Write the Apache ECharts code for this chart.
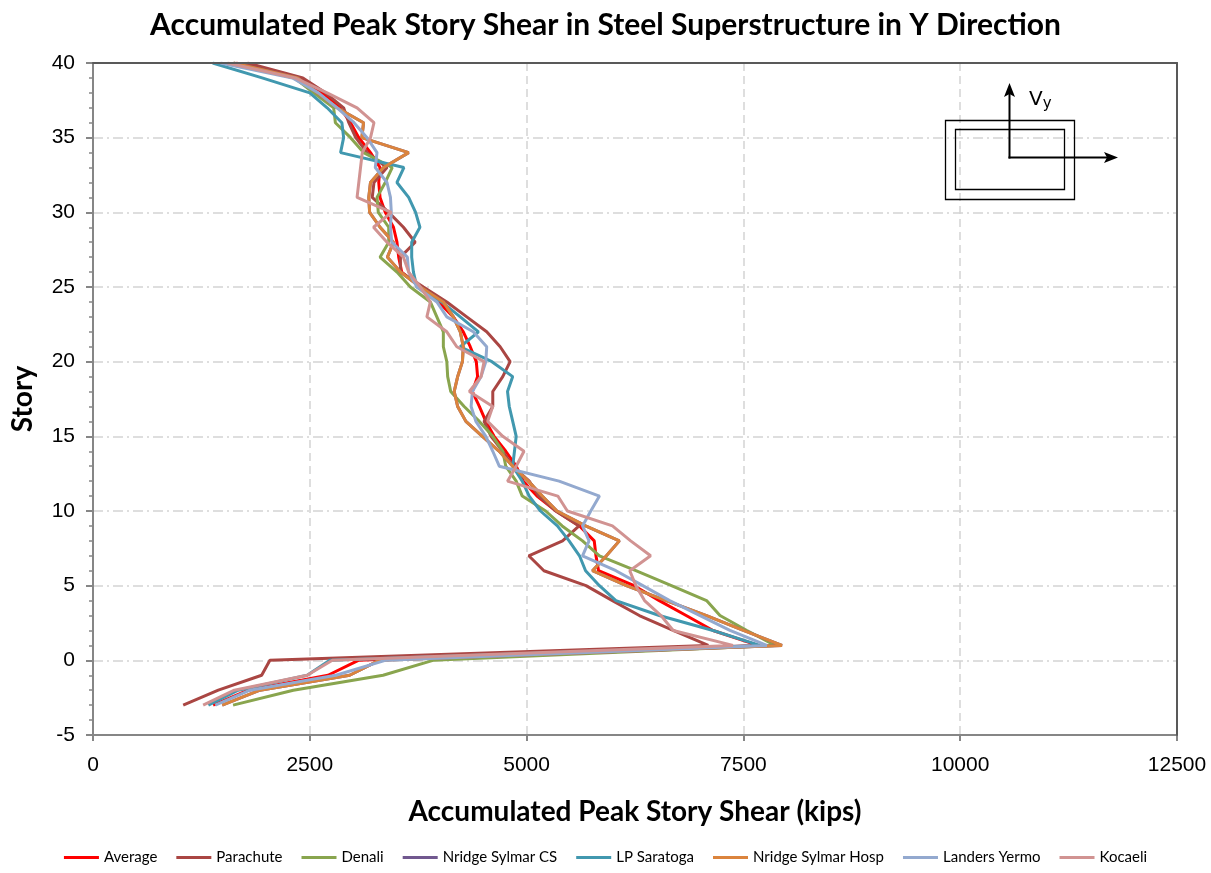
<!DOCTYPE html>
<html>
<head>
<meta charset="utf-8">
<title>Accumulated Peak Story Shear</title>
<script src="https://cdn.jsdelivr.net/npm/echarts@6/dist/echarts.min.js"></script>
<style>
  html, body { margin: 0; padding: 0; background: #ffffff; }
  #chart { width: 1211px; height: 873px; }
</style>
</head>
<body>
<div id="chart"></div>
<script>
// Story levels (basement -3 up to roof 40)
const stories = [-3, -2, -1, 0, 1, 2, 3, 4, 5, 6, 7, 8, 9, 10, 11, 12, 13, 14, 15, 16, 17, 18, 19, 20,
  21, 22, 23, 24, 25, 26, 27, 28, 29, 30, 31, 32, 33, 34, 35, 36, 37, 38, 39, 40];

// Accumulated peak story shear (kips) per ground motion, listed from story -3 to 40
const average = [1385, 1790, 2710, 3060, 7670, 7150, 6840, 6530, 6240, 5830, 5800, 5780, 5610, 5340, 5120, 4960,
  4880, 4760, 4625, 4530, 4455, 4375, 4435, 4420, 4350, 4270, 4155, 3985, 3775, 3560, 3525, 3505, 3465, 3370,
  3310, 3295, 3310, 3200, 3065, 2970, 2850, 2640, 2380, 1650];
const parachute = [1040, 1445, 1945, 2040, 7095, 6690, 6300, 5990, 5685, 5200, 5025, 5415, 5605, 5335, 5140, 5030,
  4840, 4725, 4590, 4510, 4610, 4610, 4725, 4810, 4695, 4540, 4310, 4080, 3810, 3545, 3545, 3715, 3580, 3410,
  3220, 3240, 3390, 3160, 3030, 2950, 2890, 2680, 2420, 1780];
const denali = [1615, 2310, 3345, 3920, 7865, 7540, 7230, 7075, 6670, 6260, 5840, 5645, 5410, 5220, 4950, 4880,
  4760, 4725, 4610, 4455, 4280, 4125, 4090, 4080, 4040, 4040, 3965, 3890, 3660, 3505, 3310, 3410, 3410, 3290,
  3275, 3370, 3450, 3120, 2970, 2795, 2775, 2545, 2320, 1620];
const nridgeSylmarCS = [1490, 1925, 2960, 3300, 7945, 7500, 7075, 6610, 6150, 5760, 5920, 6070, 5680, 5350, 5180, 5020,
  4840, 4685, 4490, 4300, 4205, 4165, 4205, 4260, 4270, 4235, 4155, 4040, 3775, 3545, 3395, 3465, 3310, 3190,
  3180, 3200, 3350, 3640, 3100, 3120, 2815, 2585, 2360, 1620];
const lpSaratoga = [1330, 1675, 2470, 2730, 7690, 7150, 6530, 6030, 5840, 5680, 5610, 5490, 5355, 5160, 5030, 4950,
  4840, 4860, 4880, 4840, 4800, 4780, 4840, 4600, 4235, 4445, 4235, 4020, 3735, 3695, 3675, 3675, 3770, 3720,
  3640, 3505, 3585, 2855, 2890, 2870, 2700, 2500, 1950, 1380];
const nridgeSylmarHosp = [1490, 1925, 2960, 3300, 7945, 7500, 7075, 6610, 6150, 5760, 5920, 6070, 5680, 5350, 5180, 5020,
  4840, 4685, 4490, 4300, 4205, 4165, 4205, 4260, 4270, 4235, 4155, 4040, 3775, 3545, 3395, 3465, 3310, 3190,
  3180, 3200, 3350, 3640, 3100, 3120, 2815, 2585, 2360, 1620];
const landersYermo = [1410, 1810, 2800, 3370, 7770, 7345, 7000, 6650, 6340, 6030, 5645, 5720, 5645, 5740, 5840, 5375,
  4685, 4610, 4530, 4415, 4360, 4375, 4475, 4530, 4540, 4385, 4080, 3965, 3735, 3640, 3625, 3445, 3430, 3440,
  3430, 3390, 3255, 3275, 3160, 3010, 2815, 2600, 2300, 1470];
const kocaeli = [1270, 1630, 2470, 2760, 7380, 6690, 6550, 6360, 6260, 6190, 6430, 6200, 5990, 5470, 5360, 4780,
  4880, 4970, 4725, 4550, 4610, 4340, 4475, 4510, 4195, 4080, 3850, 3890, 3775, 3640, 3580, 3390, 3235, 3440,
  3045, 3065, 3085, 3105, 3200, 3240, 3045, 2700, 2330, 1550];

const seriesNames = ['Average', 'Parachute', 'Denali', 'Nridge Sylmar CS', 'LP Saratoga',
  'Nridge Sylmar Hosp', 'Landers Yermo', 'Kocaeli'];
const seriesValues = [average, parachute, denali, nridgeSylmarCS, lpSaratoga,
  nridgeSylmarHosp, landersYermo, kocaeli];
const seriesColors = ['#FF0000', '#AA4643', '#89A54E', '#71588F', '#4198AF', '#DB843D', '#93A9CF', '#D19392'];

const chart = echarts.init(document.getElementById('chart'), null, { renderer: 'canvas' });

const series = seriesNames.map((name, i) => ({
  name: name,
  type: 'line',
  symbol: 'none',
  showSymbol: false,
  color: seriesColors[i],
  lineStyle: { width: 3, color: seriesColors[i] },
  data: stories.map((s, k) => [seriesValues[i][k], s]),
  animation: false
}));

// plain frame axes for the top and right edges of the plot area
const frameAxis = {
  z: 10,
  axisLine: { show: true, onZero: false, lineStyle: { color: '#595959', width: 2 } },
  axisTick: { show: false },
  axisLabel: { show: false },
  splitLine: { show: false }
};

chart.setOption({
  backgroundColor: '#ffffff',
  animation: false,
  title: {
    text: 'Accumulated Peak Story Shear in Steel Superstructure in Y Direction',
    left: 'center',
    top: 5,
    textStyle: { fontFamily: 'Lato', fontWeight: 'bold', fontSize: 30, color: '#000000' }
  },
  grid: { left: 93, right: 34, top: 63, bottom: 138 },
  xAxis: [{
    type: 'value',
    min: 0, max: 12500, interval: 2500,
    name: 'Accumulated Peak Story Shear (kips)',
    nameLocation: 'middle',
    nameGap: 63,
    nameTextStyle: { fontFamily: 'Lato', fontWeight: 'bold', fontSize: 28, color: '#000000' },
    axisLine: { show: true, onZero: false, lineStyle: { color: '#868686', width: 2 } },
    axisTick: { show: true, length: 6, lineStyle: { color: '#868686', width: 2 } },
    axisLabel: { margin: 20, fontFamily: 'Liberation Sans', fontSize: 21, color: '#000000',
      formatter: v => String(v) },
    splitLine: { show: true, lineStyle: { color: '#d4d4d4', width: 1.5, type: [8, 5] } },
    z: 3
  }, Object.assign({ type: 'value', position: 'top', min: 0, max: 12500 }, frameAxis)],
  yAxis: [{
    type: 'value',
    min: -5, max: 40, interval: 5,
    name: 'Story',
    nameLocation: 'middle',
    nameGap: 56,
    nameTextStyle: { fontFamily: 'Lato', fontWeight: 'bold', fontSize: 28, color: '#000000' },
    axisLine: { show: true, onZero: false, lineStyle: { color: '#868686', width: 2 } },
    axisTick: { show: true, length: 7, lineStyle: { color: '#868686', width: 2 } },
    minorTick: { show: true, splitNumber: 5, length: 4, lineStyle: { color: '#868686', width: 1.5 } },
    axisLabel: { margin: 18, fontFamily: 'Liberation Sans', fontSize: 21, color: '#000000' },
    splitLine: { show: true, lineStyle: { color: '#d4d4d4', width: 1.5, type: [10, 4, 2, 4] } },
    z: 3
  }, Object.assign({ type: 'value', position: 'right', min: -5, max: 40 }, frameAxis)],
  legend: {
    bottom: 3,
    left: 'center',
    itemWidth: 35,
    itemHeight: 10,
    itemGap: 19,
    icon: 'path://M0,3.5 L35,3.5 L35,6.5 L0,6.5 Z',
    textStyle: { fontFamily: 'Lato', fontSize: 15, color: '#000000' },
    data: seriesNames
  },
  series: series,
  graphic: [
    // plan sketch showing the loading direction
    { type: 'rect', z: 100, shape: { x: 945.5, y: 120.5, width: 129, height: 79 },
      style: { fill: null, stroke: '#000000', lineWidth: 1.3 } },
    { type: 'rect', z: 100, shape: { x: 955.5, y: 129.5, width: 109, height: 60 },
      style: { fill: null, stroke: '#000000', lineWidth: 1.3 } },
    { type: 'line', z: 101, shape: { x1: 1009.5, y1: 93, x2: 1009.5, y2: 158.5 },
      style: { stroke: '#000000', lineWidth: 2 } },
    { type: 'line', z: 101, shape: { x1: 1008.5, y1: 157.5, x2: 1108, y2: 157.5 },
      style: { stroke: '#000000', lineWidth: 2 } },
    { type: 'polygon', z: 101, shape: { points: [[1009.5, 83], [1004, 97], [1009.5, 94], [1015, 97]] },
      style: { fill: '#000000' } },
    { type: 'polygon', z: 101, shape: { points: [[1118, 157.5], [1104, 152], [1107, 157.5], [1104, 163]] },
      style: { fill: '#000000' } },
    { type: 'text', z: 101, x: 1029, y: 88,
      style: {
        text: '{v|V}{s|y}',
        rich: {
          v: { fontFamily: 'DejaVu Sans', fontSize: 20, fill: '#000000' },
          s: { fontFamily: 'DejaVu Sans', fontSize: 15, fill: '#000000', padding: [9, 0, 0, 0] }
        }
      } }
  ]
});
</script>
</body>
</html>
